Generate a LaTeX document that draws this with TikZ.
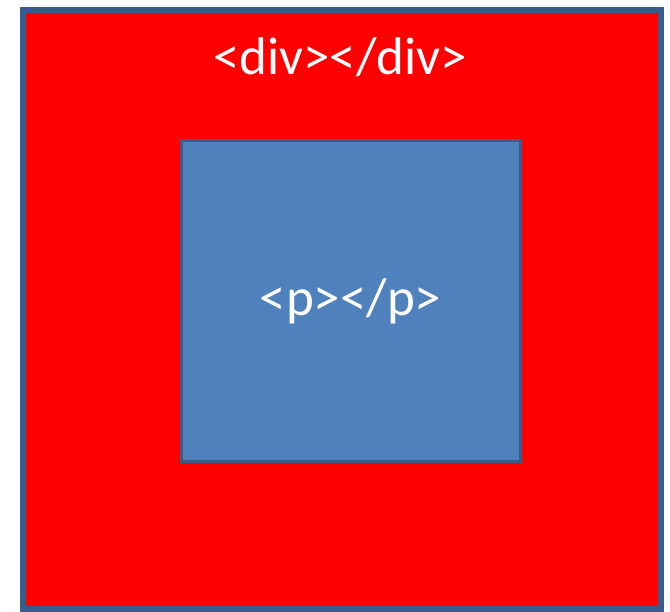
\documentclass[tikz,border=0pt]{standalone}
\usepackage{fontspec}
\setmainfont{Carlito}
\usepackage{tikz}
\usetikzlibrary{positioning}
\definecolor{outerred}{RGB}{255, 0, 0}
\definecolor{innerblue}{RGB}{79, 129, 189}
\definecolor{edgeblue}{RGB}{56, 93, 138}

\begin{document}
\begin{tikzpicture}[
    x=1pt, y=-1pt,
    box/.style={draw=edgeblue, inner sep=0pt, anchor=center},
    tag/.style={text=white, font=\fontsize{53}{63}\selectfont, inner sep=0pt}
]
    \useasboundingbox (0,0) rectangle (670,612);
    \node[box, line width=6pt, fill=outerred, minimum width=638pt,
          minimum height=599pt] (divbox) at (342,309.5) {};
    \node[box, line width=3pt, fill=innerblue, minimum width=339pt,
          minimum height=321pt] (pbox) at (350.5,301.5) {};
    \node[tag] (divlabel) at (340,57) {<div></div>};
    \node[tag] (plabel) at (pbox.center) {<p></p>};
\end{tikzpicture}
\end{document}
